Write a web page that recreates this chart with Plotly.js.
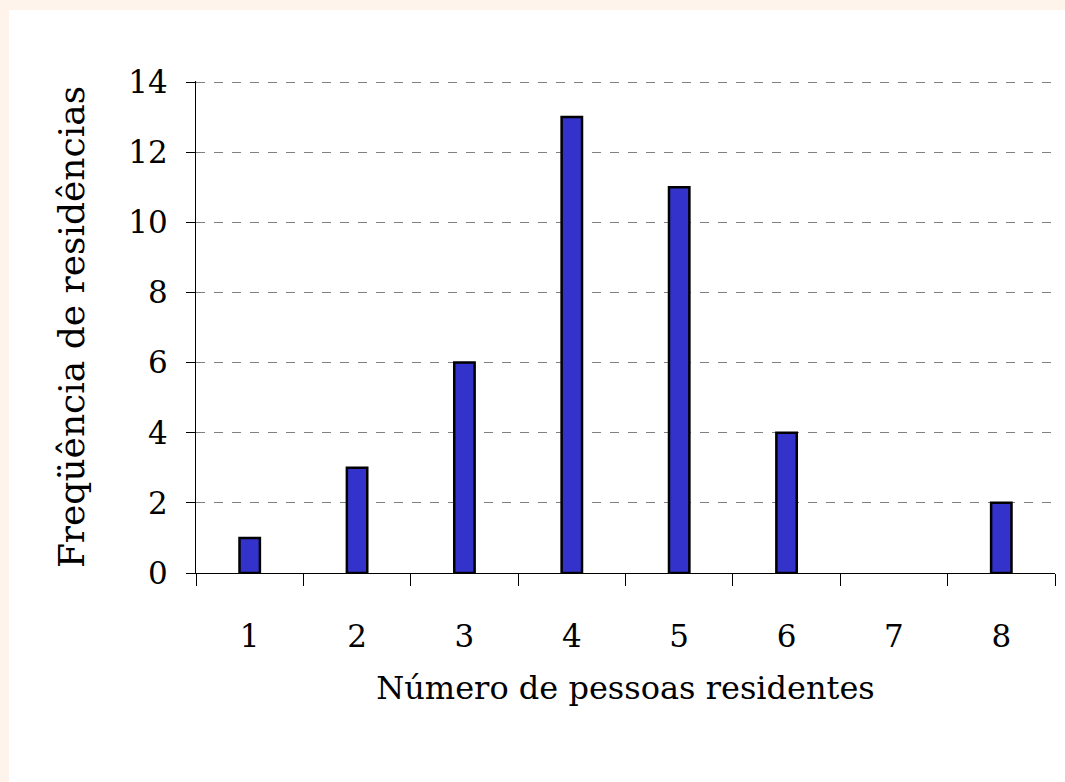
<!DOCTYPE html>
<html>
<head>
<meta charset="utf-8">
<script src="https://cdn.plot.ly/plotly-3.0.1.min.js"></script>
<style>
html,body{margin:0;padding:0;background:#FEF4EC;width:1065px;height:782px;overflow:hidden;}
#chart{position:absolute;left:9px;top:10px;width:1056px;height:772px;background:#fff;}
</style>
</head>
<body>
<div id="chart"></div>
<script>
const categories = ["1","2","3","4","5","6","7","8"];
const frequencies = [1,3,6,13,11,4,0,2];
const xTitle = "Número de pessoas residentes";
const yTitle = "Freqüência de residências";

const font = "DejaVu Serif";
const trace = {
  type: "bar",
  x: categories,
  y: frequencies,
  width: 0.19,
  marker: {color: "#3333CC", line: {color: "#000", width: frequencies.map(v => v > 0 ? 2.5 : 0)}},
  hoverinfo: "x+y"
};
const layout = {
  width: 1056, height: 772,
  paper_bgcolor: "#fff", plot_bgcolor: "#fff",
  margin: {l: 187, r: 10, t: 71, b: 209},
  font: {family: font, size: 31, color: "#000"},
  showlegend: false,
  xaxis: {
    type: "category",
    showline: true, linecolor: "#000", linewidth: 1,
    ticks: "outside", ticklen: 12, tickcolor: "#000",
    tickson: "boundaries",
    showgrid: false,
    ticklabelstandoff: 36,
    tickfont: {family: font, size: 31},
    title: {text: xTitle, font: {family: font, size: 32}, standoff: 23}
  },
  yaxis: {
    range: [0, 14.03], tickvals: [0,2,4,6,8,10,12,14],
    showline: true, linecolor: "#000", linewidth: 1,
    ticks: "outside", ticklen: 9, tickcolor: "#000",
    showgrid: true, gridcolor: "#808080", griddash: "dash", gridwidth: 1,
    zeroline: false,
    ticklabelstandoff: 12,
    tickfont: {family: font, size: 31},
    title: {text: yTitle, font: {family: font, size: 36}, standoff: 32}
  }
};
Plotly.newPlot("chart", [trace], layout, {displayModeBar: false, staticPlot: true});
</script>
</body>
</html>
